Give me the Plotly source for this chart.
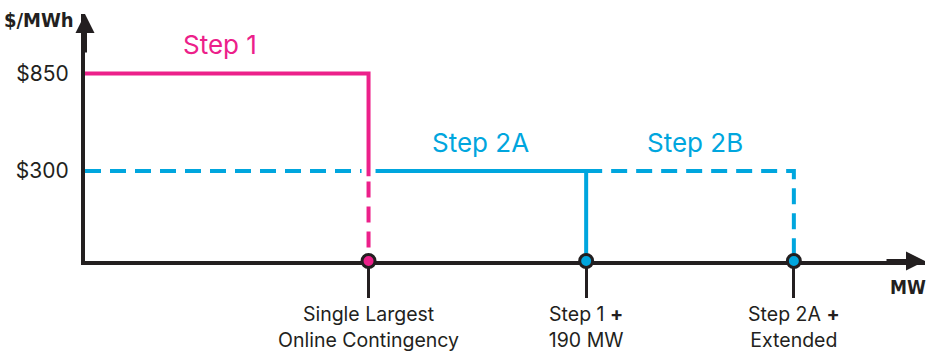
import plotly.graph_objects as go

# Offer-curve breakpoints along the MW axis (schematic spacing) and the step prices
mw_breaks = [0, 400, 707, 1000]
step_names = ["Step 1", "Step 2A", "Step 2B"]
step_prices = [850, 300, 300]  # $/MWh
price_ticks = [300, 850]
price_labels = ["$300", "$850"]
mw_tick_labels = [
    "Single Largest<br>Online Contingency",
    "Step 1 <b>+</b><br>190 MW",
    "Step 2A <b>+</b><br>Extended",
]

PINK = "#EC208A"
BLUE = "#00A6DE"
INK = "#231F20"
FONT = "Inter"
TITLE_FONT = "DejaVu Sans Condensed, Liberation Sans Narrow, Arial Narrow, DejaVu Sans, sans-serif"
DASH = "16px,9px"

# axis extents
X_MAX = 1185
Y_FLOOR = -208
Y_TOP = 1185

x0, x1, x2, x3 = mw_breaks
p1, p2a, p2b = step_prices

fig = go.Figure()

# Step 2 price continued under Step 1 (dashed)
fig.add_trace(go.Scatter(x=[x0, x1], y=[p2a, p2a], mode="lines",
                         line=dict(color=BLUE, width=4, dash=DASH)))
# Step 2A (solid)
fig.add_trace(go.Scatter(x=[x1, x2, x2], y=[p2a, p2a, Y_FLOOR], mode="lines",
                         line=dict(color=BLUE, width=4)))
# Step 2B (dashed)
fig.add_trace(go.Scatter(x=[x2, x3, x3], y=[p2b, p2b, Y_FLOOR], mode="lines",
                         line=dict(color=BLUE, width=4, dash=DASH)))
# white knock-out where the Step 1 riser crosses the $300 line
fig.add_trace(go.Scatter(x=[x1, x1], y=[p2a + 40, p2a - 40], mode="lines",
                         line=dict(color="white", width=14)))
# Step 1 (solid) and its dashed drop to the MW axis
fig.add_trace(go.Scatter(x=[x0, x1, x1], y=[p1, p1, p2a - 30], mode="lines",
                         line=dict(color=PINK, width=4)))
fig.add_trace(go.Scatter(x=[x1, x1], y=[p2a - 60, Y_FLOOR], mode="lines",
                         line=dict(color=PINK, width=4, dash=DASH)))

# breakpoint markers on the MW axis
fig.add_trace(go.Scatter(
    x=mw_breaks[1:], y=[Y_FLOOR] * 3, mode="markers", cliponaxis=False,
    marker=dict(size=13, color=[PINK, BLUE, BLUE], line=dict(color=INK, width=3)),
))

# step names above each segment
colors = [PINK, BLUE, BLUE]
name_nudge = [-7, 3, 5]
for i, name in enumerate(step_names):
    fig.add_annotation(x=(mw_breaks[i] + mw_breaks[i + 1]) / 2, y=step_prices[i],
                       text=name, showarrow=False, yanchor="bottom", yshift=11,
                       xshift=name_nudge[i],
                       font=dict(family=FONT, size=26, color=colors[i]))

# arrow heads on both axes
fig.add_annotation(x=0, y=Y_TOP, ax=0, ay=40, text="", showarrow=True,
                   arrowhead=2, arrowsize=0.95, arrowwidth=4, arrowcolor=INK, standoff=0)
fig.add_annotation(x=X_MAX, y=Y_FLOOR, ax=-40, ay=0, text="", showarrow=True,
                   arrowhead=2, arrowsize=0.95, arrowwidth=4, arrowcolor=INK, standoff=0)

# axis titles
fig.add_annotation(xref="paper", x=0, y=Y_TOP, text="<b>$/MWh</b>", showarrow=False,
                   xanchor="left", xshift=-83, yanchor="middle", yshift=-6,
                   font=dict(family=TITLE_FONT, size=20, color=INK))
fig.add_annotation(x=X_MAX, y=Y_FLOOR, text="<b>MW</b>", showarrow=False,
                   xanchor="right", xshift=3, yanchor="middle", yshift=-26,
                   font=dict(family=TITLE_FONT, size=19, color=INK))

fig.update_xaxes(range=[0, X_MAX], showline=True, linewidth=4, linecolor=INK,
                 showgrid=False, zeroline=False, layer="below traces", automargin=False,
                 tickvals=mw_breaks[1:], ticktext=mw_tick_labels,
                 ticks="outside", ticklen=33, tickwidth=2.5, tickcolor=INK,
                 tickfont=dict(family=FONT, size=19.5, color=INK))
fig.update_yaxes(range=[Y_FLOOR, Y_TOP], showline=True, linewidth=4, linecolor=INK,
                 showgrid=False, zeroline=False, layer="below traces", automargin=False,
                 tickvals=price_ticks, ticktext=price_labels, ticks="",
                 ticklabelstandoff=8,
                 tickfont=dict(family=FONT, size=21, color=INK))

fig.update_layout(
    width=928, height=353, autosize=False, showlegend=False,
    margin=dict(l=85, r=3, t=14, b=92),
    paper_bgcolor="white", plot_bgcolor="white",
)

fig.write_html("out.html")
